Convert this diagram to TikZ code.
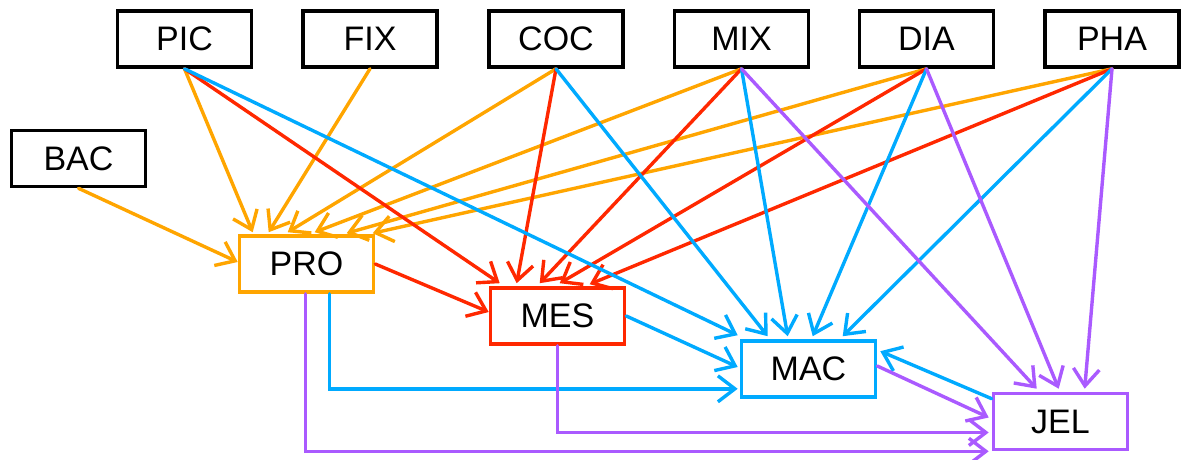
\documentclass[tikz,border=0pt]{standalone}
\usepackage{fontspec}
\setmainfont{Liberation Sans}
\usetikzlibrary{arrows.meta,calc}
\definecolor{cora}{RGB}{255,165,0}
\definecolor{cred}{RGB}{255,40,0}
\definecolor{cblu}{RGB}{0,170,255}
\definecolor{cpur}{RGB}{170,90,255}
\tikzset{
  box/.style={draw, line width=3.6pt, minimum width=134pt, minimum height=56pt, inner sep=0pt,
    font=\fontsize{34}{38}\selectfont, fill=white},
  con/.style={line width=3.4pt, -{Straight Barb[length=17pt,width=26pt]}, line cap=round},
  eo/.style={con, draw=cora},
  er/.style={con, draw=cred},
  eb/.style={con, draw=cblu},
  ep/.style={con, draw=cpur},
}
\begin{document}
\begin{tikzpicture}[x=1pt,y=-1pt]
\useasboundingbox (0,0) rectangle (1183,459);
\node[box] (PIC) at (184.5,39) {PIC};
\node[box] (FIX) at (370,39) {FIX};
\node[box] (COC) at (556,39) {COC};
\node[box] (MIX) at (741.5,39) {MIX};
\node[box] (DIA) at (926.5,39) {DIA};
\node[box] (PHA) at (1112,39) {PHA};
\node[box] (BAC) at (78.5,158.5) {BAC};
\node[box, draw=cora] (PRO) at (306.5,264) {PRO};
\node[box, draw=cred] (MES) at (557.5,316) {MES};
\node[box, draw=cblu] (MAC) at (808.5,369) {MAC};
\node[box, draw=cpur] (JEL) at (1060.5,421.5) {JEL};
% orange into PRO
\draw[eo] (BAC.south) -- ($(PRO.west)+(0,-2)$);
\draw[eo] (PIC.south) -- ($(PRO.north west)+(15,-2)$);
\draw[eo] (FIX.south) -- ($(PRO.north west)+(31,-2)$);
\draw[eo] (COC.south) -- ($(PRO.north west)+(50,-2)$);
\draw[eo] (MIX.south) -- ($(PRO.north west)+(77,-2)$);
\draw[eo] (DIA.south) -- ($(PRO.north west)+(109,-1)$);
\draw[eo] (PHA.south) -- ($(PRO.north west)+(135,-1)$);
% red into MES
\draw[er] (PRO.east) -- ($(MES.west)+(0,-4)$);
\draw[er] (PIC.south) -- ($(MES.north west)+(11,-3)$);
\draw[er] (COC.south) -- ($(MES.north west)+(28,-3)$);
\draw[er] (MIX.south) -- ($(MES.north west)+(51,-3)$);
\draw[er] (DIA.south) -- ($(MES.north west)+(71,-3)$);
\draw[er] (PHA.south) -- ($(MES.north west)+(101,-2)$);
% blue into MAC
\draw[eb] (PIC.south) -- ($(MAC.north west)+(-2,-4)$);
\draw[eb] (MES.east) -- ($(MAC.west)+(-2,-2)$);
\draw[eb] ($(PRO.south west)+(92,0)$) |- ($(MAC.south west)+(-2,-10)$);
\draw[eb] (COC.south) -- ($(MAC.north west)+(28,-3)$);
\draw[eb] (MIX.south) -- ($(MAC.north west)+(48,-3)$);
\draw[eb] (DIA.south) -- ($(MAC.north west)+(73,-3)$);
\draw[eb] (PHA.south) -- ($(MAC.north west)+(103,-3)$);
\draw[eb] ($(JEL.north west)+(0,7)$) -- ($(MAC.north east)+(3,12)$);
% purple into JEL
\draw[ep] (MIX.south) -- ($(JEL.north west)+(45,-3)$);
\draw[ep] (DIA.south) -- ($(JEL.north west)+(67,-3)$);
\draw[ep] (PHA.south) -- ($(JEL.north west)+(93,-3)$);
\draw[ep] ($(MAC.east)+(0,-3)$) -- ($(JEL.west)+(-3,-4)$);
\draw[ep] (MES.south) |- ($(JEL.west)+(-3,11)$);
\draw[ep] ($(PRO.south west)+(68,0)$) |- ($(JEL.south west)+(-3,0)$);
\end{tikzpicture}
\end{document}
